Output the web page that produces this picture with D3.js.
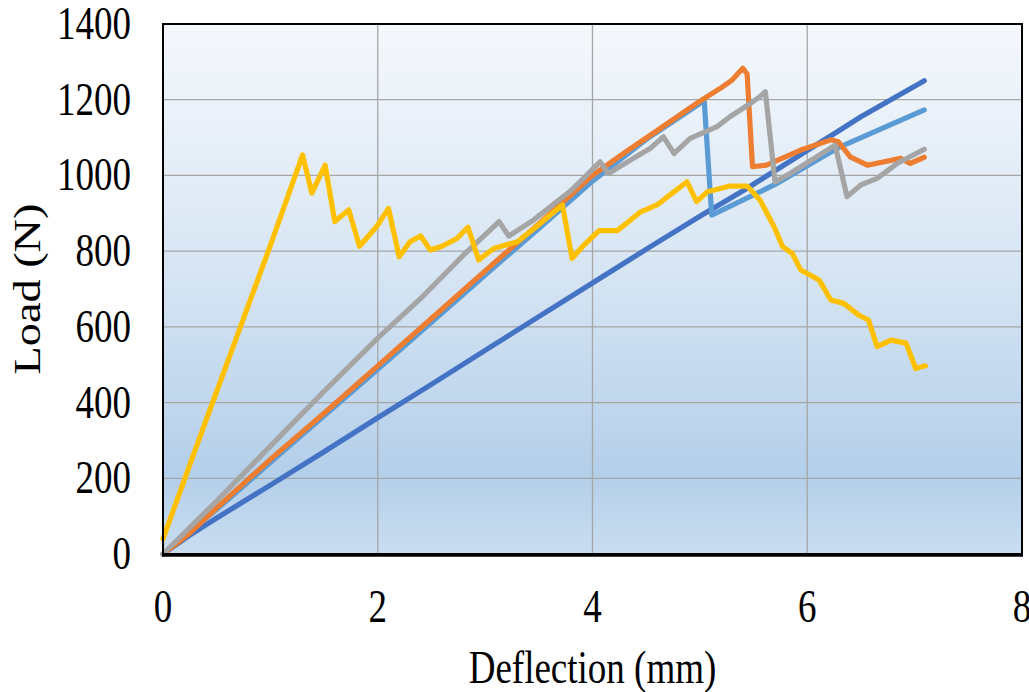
<!DOCTYPE html>
<html>
<head>
<meta charset="utf-8">
<script src="https://cdn.jsdelivr.net/npm/d3@7"></script>
<style>
  body { margin: 0; background: #fff; }
  text { font-family: "Liberation Serif", "Times New Roman", serif; fill: #000; }
</style>
</head>
<body>
<div id="container"></div>
<script>
/**
 * DATA
 * */
const xTicks = [0, 2, 4, 6, 8];
const yTicks = [0, 200, 400, 600, 800, 1000, 1200, 1400];

// [deflection mm, load N]
const seriesDarkBlue = [
  [0, 0], [0.25, 50], [0.5, 95], [1, 182], [1.5, 270], [2, 360], [2.5, 448],
  [3, 538], [3.5, 627], [4, 716], [4.54, 812], [5, 892],
  [5.41, 961], [6, 1066], [6.25, 1110], [6.5, 1155], [7.09, 1250]
];
const seriesLightBlue = [
  [0, 0], [0.5, 118], [1, 242], [1.5, 365], [2, 488], [2.5, 612], [3, 737],
  [3.5, 860], [4, 985], [4.5, 1095], [5, 1190], [5.04, 1199], [5.11, 895],
  [5.72, 979], [6.28, 1072], [7.09, 1173]
];
const seriesOrange = [
  [0, 0], [0.25, 55], [0.5, 122], [1, 250], [1.5, 372], [2, 497], [2.5, 622],
  [3, 748], [3.5, 872], [4, 1000], [4.3, 1060], [4.6, 1118], [5, 1196],
  [5.2, 1232], [5.3, 1252], [5.4, 1283], [5.44, 1268], [5.49, 1023],
  [5.62, 1027], [5.94, 1067], [6.22, 1094], [6.29, 1089], [6.4, 1049],
  [6.56, 1027], [6.87, 1045], [6.96, 1032], [7.09, 1048]
];
const seriesGray = [
  [0, 0], [0.5, 140], [1, 285], [1.5, 430], [2, 570], [2.4, 675], [2.8, 790],
  [3.13, 878], [3.22, 840], [3.45, 882], [3.8, 960], [4.07, 1036], [4.15, 1005],
  [4.38, 1045], [4.54, 1072], [4.66, 1102], [4.76, 1058], [4.91, 1098],
  [5.16, 1129], [5.28, 1155], [5.47, 1190], [5.56, 1208], [5.61, 1221],
  [5.7, 983], [5.84, 1005], [6.26, 1080], [6.37, 944], [6.5, 975], [6.65, 992],
  [6.84, 1032], [7.09, 1069]
];
const seriesYellow = [
  [0, 40], [0.3, 275], [0.65, 545], [1, 815], [1.3, 1054], [1.386, 953],
  [1.51, 1027], [1.6, 878], [1.73, 909], [1.83, 813], [1.99, 865], [2.1, 913],
  [2.2, 785], [2.3, 825], [2.4, 840], [2.49, 803], [2.6, 813], [2.74, 834],
  [2.84, 863], [2.94, 777], [3.08, 807], [3.3, 825], [3.48, 865], [3.72, 922],
  [3.81, 781], [3.92, 816], [4.06, 854], [4.23, 854], [4.45, 904], [4.6, 922],
  [4.88, 983], [4.97, 931], [5.07, 957], [5.28, 972], [5.44, 972], [5.56, 935],
  [5.69, 865], [5.77, 812], [5.86, 794], [5.94, 750], [6.11, 724], [6.22, 671],
  [6.34, 662], [6.48, 631], [6.57, 618], [6.65, 548], [6.78, 565], [6.92, 557],
  [7.01, 490], [7.1, 497]
];

// drawing order: later ones on top
const series = [
  { values: seriesDarkBlue, color: "#4472c4" },
  { values: seriesLightBlue, color: "#5b9bd5" },
  { values: seriesOrange, color: "#ed7d31" },
  { values: seriesGray, color: "#a5a5a5" },
  { values: seriesYellow, color: "#ffc000" }
];

/**
 * LAYOUT
 * */
const width = 1029, height = 692;
const plot = { left: 163, right: 1022, top: 24, bottom: 554 };
const vStretch = 1.25; // the reference text looks stretched vertically

const svg = d3.select("#container")
  .append("svg")
  .attr("width", width)
  .attr("height", height);

const x = d3.scaleLinear().domain([0, 8]).range([plot.left, plot.right]);
const y = d3.scaleLinear().domain([0, 1400]).range([plot.bottom, plot.top]);

// background gradient
const grad = svg.append("defs").append("linearGradient")
  .attr("id", "bg").attr("x1", 0).attr("y1", 0).attr("x2", 0).attr("y2", 1);
[["0%", "#f5f8fc"], ["45%", "#d8e6f4"], ["85%", "#b4cfea"], ["100%", "#c9ddf0"]]
  .forEach(([o, c]) => grad.append("stop").attr("offset", o).attr("stop-color", c));

svg.append("rect")
  .attr("x", plot.left).attr("y", plot.top)
  .attr("width", plot.right - plot.left).attr("height", plot.bottom - plot.top)
  .attr("fill", "url(#bg)");

// gridlines
svg.append("g")
  .selectAll("line")
  .data(yTicks.filter(d => d > 0 && d < 1400))
  .join("line")
  .attr("x1", plot.left).attr("x2", plot.right)
  .attr("y1", d => y(d)).attr("y2", d => y(d))
  .attr("stroke", "#a6a6a6").attr("stroke-width", 1.3);

svg.append("g")
  .selectAll("line")
  .data(xTicks.filter(d => d > 0 && d < 8))
  .join("line")
  .attr("y1", plot.top).attr("y2", plot.bottom)
  .attr("x1", d => x(d)).attr("x2", d => x(d))
  .attr("stroke", "#a6a6a6").attr("stroke-width", 1.3);

// series lines
const line = d3.line().x(d => x(d[0])).y(d => y(d[1]));
svg.append("g")
  .selectAll("path")
  .data(series)
  .join("path")
  .attr("d", d => line(d.values))
  .attr("fill", "none")
  .attr("stroke", d => d.color)
  .attr("stroke-width", 5.2)
  .attr("stroke-linejoin", "round")
  .attr("stroke-linecap", "round");

// frame
svg.append("rect")
  .attr("x", plot.left).attr("y", plot.top)
  .attr("width", plot.right - plot.left).attr("height", plot.bottom - plot.top)
  .attr("fill", "none").attr("stroke", "#000").attr("stroke-width", 2);
svg.append("line")
  .attr("x1", plot.left - 1).attr("x2", plot.right + 1)
  .attr("y1", plot.bottom + 1).attr("y2", plot.bottom + 1)
  .attr("stroke", "#000").attr("stroke-width", 3.5);

// tick labels
svg.append("g")
  .selectAll("text")
  .data(yTicks)
  .join("text")
  .attr("transform", d => `translate(131, ${y(d) + 15}) scale(1, ${vStretch})`)
  .attr("text-anchor", "end")
  .style("font-size", "37px")
  .text(d => d);

svg.append("g")
  .selectAll("text")
  .data(xTicks)
  .join("text")
  .attr("transform", d => `translate(${x(d)}, 622) scale(1, ${vStretch})`)
  .attr("text-anchor", "middle")
  .style("font-size", "37px")
  .text(d => d);

// axis titles
svg.append("text")
  .attr("transform", `translate(${(plot.left + plot.right) / 2}, 683) scale(1, ${vStretch})`)
  .attr("text-anchor", "middle")
  .style("font-size", "37px")
  .text("Deflection (mm)");

svg.append("text")
  .attr("transform", `translate(40, ${(plot.top + plot.bottom) / 2}) rotate(-90) scale(${vStretch}, 1)`)
  .attr("text-anchor", "middle")
  .style("font-size", "37px")
  .text("Load (N)");
</script>
</body>
</html>
